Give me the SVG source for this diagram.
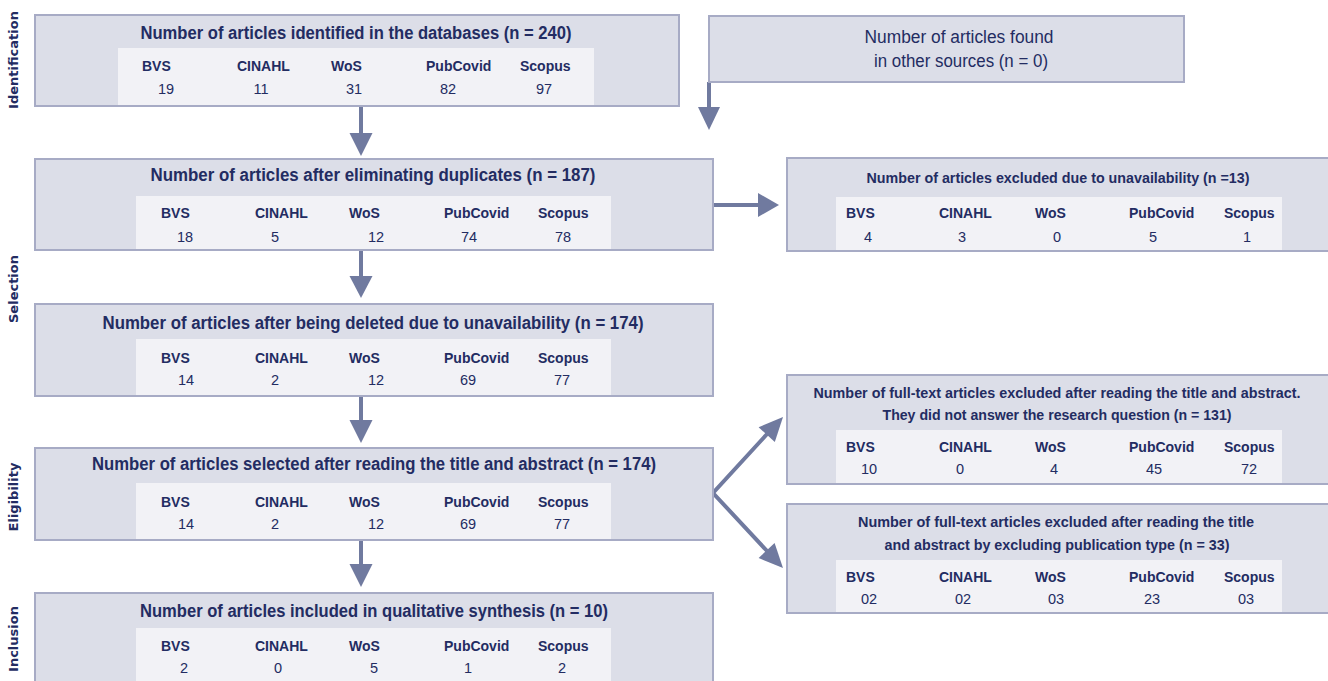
<svg xmlns="http://www.w3.org/2000/svg" width="1328" height="681" viewBox="0 0 1328 681">
<style>
.box{fill:#dcdee8;stroke:#a7abc5;stroke-width:2}
.pan{fill:#f2f2f6}
.t{font-family:"Liberation Sans",Arial,sans-serif;fill:#232c62}
.ti{font-size:17.5px;font-weight:bold;text-anchor:middle}
.tr{font-size:15px;font-weight:bold;text-anchor:middle}
.lb{font-size:14px;font-weight:bold}
.nm{font-size:14.5px;text-anchor:middle}
.reg{font-size:17.5px;text-anchor:middle}
.side{font-family:"DejaVu Sans",Verdana,sans-serif;font-size:13px;font-weight:bold;fill:#232c62;text-anchor:middle}
.sh{stroke:#707a9f;stroke-width:4;fill:none}
.hd{fill:#707a9f}
</style>
<rect width="1328" height="681" fill="#ffffff"/>
<g id="phases">
<text class="side" transform="translate(18,60) rotate(-90)">Identification</text>
<text class="side" transform="translate(18,289) rotate(-90)">Selection</text>
<text class="side" transform="translate(18,497) rotate(-90)">Eligibility</text>
<text class="side" transform="translate(18,639) rotate(-90)">Inclusion</text>
</g>
<g id="connectors">
<line class="sh" x1="361" y1="106" x2="361" y2="135"/><polygon class="hd" points="349.5,133 372.5,133 361,156"/>
<line class="sh" x1="361" y1="250" x2="361" y2="278"/><polygon class="hd" points="349.5,276 372.5,276 361,298"/>
<line class="sh" x1="361" y1="396" x2="361" y2="422"/><polygon class="hd" points="349.5,420 372.5,420 361,443"/>
<line class="sh" x1="361" y1="540" x2="361" y2="566"/><polygon class="hd" points="349.5,564 372.5,564 361,587"/>
<line class="sh" x1="709" y1="82" x2="709" y2="109"/><polygon class="hd" points="698,107 720,107 709,130"/>
<line class="sh" x1="713" y1="205" x2="760" y2="205"/><polygon class="hd" points="758,193 758,217 779,205"/>
<polyline class="sh" stroke-linejoin="miter" points="768,433 713,493 768,552"/>
<polygon class="hd" points="774.8,442.1 758.6,427.2 783,417"/>
<polygon class="hd" points="758.6,558 774.6,543 783,568"/>
</g>
<g id="identified">
<rect class="box" x="35" y="15" width="644" height="91"/>
<rect class="pan" x="118" y="48" width="476" height="57"/>
<text class="t ti" x="356" y="39" textLength="431" lengthAdjust="spacingAndGlyphs">Number of articles identified in the databases (n = 240)</text>
<text class="t lb" x="142" y="71">BVS</text><text class="t lb" x="237" y="71">CINAHL</text><text class="t lb" x="331" y="71">WoS</text><text class="t lb" x="426" y="71">PubCovid</text><text class="t lb" x="520" y="71">Scopus</text>
<text class="t nm" x="166" y="94">19</text><text class="t nm" x="261" y="94">11</text><text class="t nm" x="354" y="94">31</text><text class="t nm" x="448" y="94">82</text><text class="t nm" x="544" y="94">97</text>
</g>
<g id="other-sources">
<rect class="box" x="709" y="16" width="475" height="66"/>
<text class="t reg" x="959" y="43" textLength="189" lengthAdjust="spacingAndGlyphs">Number of articles found</text>
<text class="t reg" x="961" y="67" textLength="174" lengthAdjust="spacingAndGlyphs">in other sources (n = 0)</text>
</g>
<g id="duplicates">
<rect class="box" x="35" y="159" width="678" height="91"/>
<rect class="pan" x="136" y="196" width="475" height="53"/>
<text class="t ti" x="373" y="181" textLength="445" lengthAdjust="spacingAndGlyphs">Number of articles after eliminating duplicates  (n = 187)</text>
<text class="t lb" x="161" y="218">BVS</text><text class="t lb" x="255" y="218">CINAHL</text><text class="t lb" x="349" y="218">WoS</text><text class="t lb" x="444" y="218">PubCovid</text><text class="t lb" x="538" y="218">Scopus</text>
<text class="t nm" x="185" y="242">18</text><text class="t nm" x="275" y="242">5</text><text class="t nm" x="376" y="242">12</text><text class="t nm" x="469" y="242">74</text><text class="t nm" x="563" y="242">78</text>
</g>
<g id="excluded-unavailability">
<rect class="box" x="787" y="158" width="560" height="93"/>
<rect class="pan" x="836" y="197" width="446" height="53"/>
<text class="t tr" x="1058" y="183" textLength="383" lengthAdjust="spacingAndGlyphs">Number of articles excluded due to unavailability (n =13)</text>
<text class="t lb" x="846" y="218">BVS</text><text class="t lb" x="939" y="218">CINAHL</text><text class="t lb" x="1035" y="218">WoS</text><text class="t lb" x="1129" y="218">PubCovid</text><text class="t lb" x="1224" y="218">Scopus</text>
<text class="t nm" x="868" y="242">4</text><text class="t nm" x="962" y="242">3</text><text class="t nm" x="1057" y="242">0</text><text class="t nm" x="1153" y="242">5</text><text class="t nm" x="1247" y="242">1</text>
</g>
<g id="after-deleted">
<rect class="box" x="35" y="304" width="678" height="92"/>
<rect class="pan" x="136" y="339" width="475" height="56"/>
<text class="t ti" x="373" y="329" textLength="541" lengthAdjust="spacingAndGlyphs">Number of articles after being deleted due to unavailability (n = 174)</text>
<text class="t lb" x="161" y="363">BVS</text><text class="t lb" x="255" y="363">CINAHL</text><text class="t lb" x="349" y="363">WoS</text><text class="t lb" x="444" y="363">PubCovid</text><text class="t lb" x="538" y="363">Scopus</text>
<text class="t nm" x="186" y="385">14</text><text class="t nm" x="275" y="385">2</text><text class="t nm" x="376" y="385">12</text><text class="t nm" x="468" y="385">69</text><text class="t nm" x="562" y="385">77</text>
</g>
<g id="selected">
<rect class="box" x="35" y="448" width="678" height="92"/>
<rect class="pan" x="136" y="483" width="475" height="56"/>
<text class="t ti" x="374" y="470" textLength="564" lengthAdjust="spacingAndGlyphs">Number of articles selected after reading the title and abstract (n = 174)</text>
<text class="t lb" x="161" y="507">BVS</text><text class="t lb" x="255" y="507">CINAHL</text><text class="t lb" x="349" y="507">WoS</text><text class="t lb" x="444" y="507">PubCovid</text><text class="t lb" x="538" y="507">Scopus</text>
<text class="t nm" x="186" y="529">14</text><text class="t nm" x="275" y="529">2</text><text class="t nm" x="376" y="529">12</text><text class="t nm" x="468" y="529">69</text><text class="t nm" x="562" y="529">77</text>
</g>
<g id="excluded-question">
<rect class="box" x="787" y="375" width="560" height="109"/>
<rect class="pan" x="836" y="430" width="446" height="53"/>
<text class="t tr" x="1057" y="398" textLength="487" lengthAdjust="spacingAndGlyphs">Number of full-text articles excluded after reading the title and abstract.</text>
<text class="t tr" x="1057" y="420" textLength="349" lengthAdjust="spacingAndGlyphs">They did not answer the research question (n = 131)</text>
<text class="t lb" x="846" y="452">BVS</text><text class="t lb" x="939" y="452">CINAHL</text><text class="t lb" x="1035" y="452">WoS</text><text class="t lb" x="1129" y="452">PubCovid</text><text class="t lb" x="1224" y="452">Scopus</text>
<text class="t nm" x="869" y="474">10</text><text class="t nm" x="960" y="474">0</text><text class="t nm" x="1054" y="474">4</text><text class="t nm" x="1154" y="474">45</text><text class="t nm" x="1249" y="474">72</text>
</g>
<g id="excluded-type">
<rect class="box" x="787" y="504" width="560" height="109"/>
<rect class="pan" x="836" y="560" width="446" height="52"/>
<text class="t tr" x="1056" y="527" textLength="396" lengthAdjust="spacingAndGlyphs">Number of full-text articles excluded after reading the title</text>
<text class="t tr" x="1057" y="550" textLength="345" lengthAdjust="spacingAndGlyphs">and abstract by excluding publication type (n = 33)</text>
<text class="t lb" x="846" y="582">BVS</text><text class="t lb" x="939" y="582">CINAHL</text><text class="t lb" x="1035" y="582">WoS</text><text class="t lb" x="1129" y="582">PubCovid</text><text class="t lb" x="1224" y="582">Scopus</text>
<text class="t nm" x="869" y="604">02</text><text class="t nm" x="963" y="604">02</text><text class="t nm" x="1056" y="604">03</text><text class="t nm" x="1152" y="604">23</text><text class="t nm" x="1246" y="604">03</text>
</g>
<g id="included">
<rect class="box" x="35" y="593" width="678" height="100"/>
<rect class="pan" x="136" y="628" width="475" height="60"/>
<text class="t ti" x="374" y="617" textLength="468" lengthAdjust="spacingAndGlyphs">Number of articles included in qualitative synthesis (n = 10)</text>
<text class="t lb" x="161" y="651">BVS</text><text class="t lb" x="255" y="651">CINAHL</text><text class="t lb" x="349" y="651">WoS</text><text class="t lb" x="444" y="651">PubCovid</text><text class="t lb" x="538" y="651">Scopus</text>
<text class="t nm" x="184" y="673">2</text><text class="t nm" x="278" y="673">0</text><text class="t nm" x="374" y="673">5</text><text class="t nm" x="468" y="673">1</text><text class="t nm" x="562" y="673">2</text>
</g>
</svg>
